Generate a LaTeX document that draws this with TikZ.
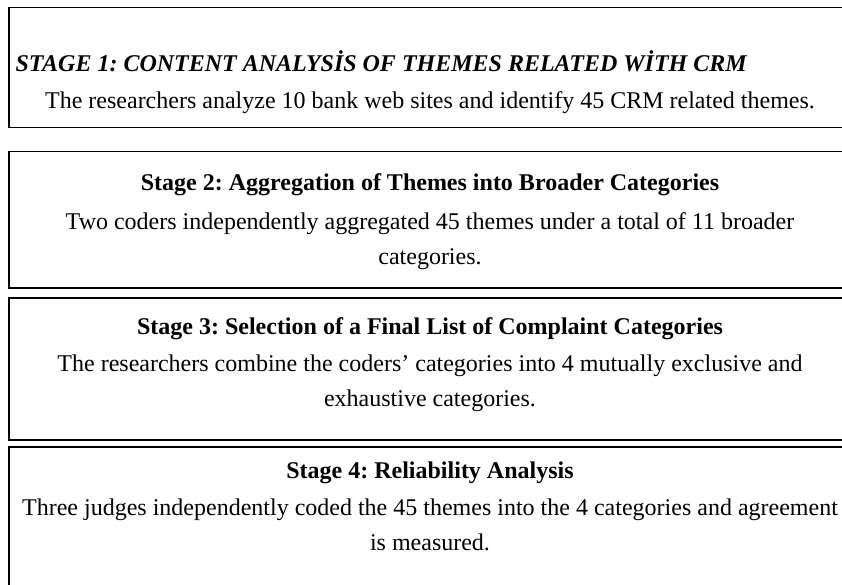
\documentclass[tikz,border=0pt]{standalone}
\usepackage{fontspec}
\setmainfont{Liberation Serif}
\frenchspacing
\begin{document}
\begin{tikzpicture}[
    x=1pt, y=-1pt,
    stagebox/.style={draw, line width=1.5pt, rectangle, anchor=north west,
      minimum width=844pt, inner sep=0pt},
    title/.style={anchor=base, font=\fontsize{24}{35}\selectfont\bfseries},
    body/.style={anchor=north, align=center, inner sep=0pt,
      font=\fontsize{24}{35}\selectfont}
  ]
  \useasboundingbox (0,0) rectangle (842,585);
  \clip (0,0) rectangle (842,585);
  % stage boxes
  \node[stagebox, minimum height=120pt] (box1) at (8,7) {};
  \node[stagebox, minimum height=136pt] (box2) at (8,151) {};
  \node[stagebox, minimum height=142pt] (box3) at (8,297) {};
  \node[stagebox, minimum height=160pt] (box4) at (8,446) {};
  % stage 1
  \node[title, anchor=base west, font=\fontsize{24}{35}\selectfont\bfseries\itshape]
    (title1) at (12,72) {STAGE 1: CONTENT ANALYSİS OF THEMES RELATED WİTH CRM};
  \node[body] (text1) at (430,91)
    {The researchers analyze 10 bank web sites and identify 45 CRM related themes.};
  % stage 2
  \node[title] (title2) at (430,191) {Stage 2: Aggregation of Themes into Broader Categories};
  \node[body] (text2) at (430,212)
    {Two coders independently aggregated 45 themes under a total of 11 broader\\ categories.};
  % stage 3
  \node[title] (title3) at (430,334) {Stage 3: Selection of a Final List of Complaint Categories};
  \node[body] (text3) at (430,355)
    {The researchers combine the coders’ categories into 4 mutually exclusive and\\ exhaustive categories.};
  % stage 4
  \node[title] (title4) at (430,478) {Stage 4: Reliability Analysis};
  \node[body] (text4) at (430,499)
    {Three judges independently coded the 45 themes into the 4 categories and agreement\\ is measured.};
\end{tikzpicture}
\end{document}
